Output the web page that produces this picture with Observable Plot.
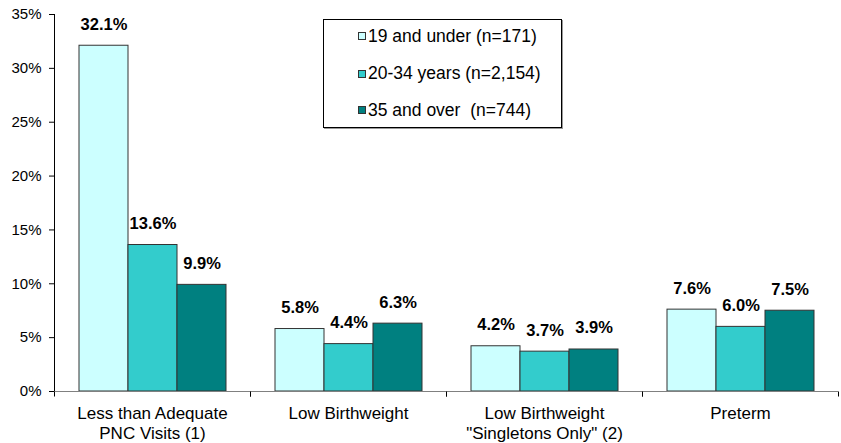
<!DOCTYPE html>
<html>
<head>
<meta charset="utf-8">
<script src="https://cdn.jsdelivr.net/npm/d3@7"></script>
<script src="https://cdn.jsdelivr.net/npm/@observablehq/plot@0.6"></script>
<style>
  html, body { margin: 0; padding: 0; background: #fff; }
  #wrap { position: relative; width: 841px; height: 443px; font-family: "Liberation Sans", Arial, sans-serif; }
  #legend { position: absolute; left: 323px; top: 19px; width: 239px; height: 109px; border: 1px solid #000;
            box-shadow: 1px 1px 0 #999; background: #fff; box-sizing: border-box; }
  .row { position: absolute; left: 34px; display: flex; align-items: center; font-size: 17.5px; white-space: pre; color: #000; }
  .sw { width: 8px; height: 8px; border: 1px solid #333; box-sizing: border-box; margin-right: 2px; }
</style>
</head>
<body>
<div id="wrap"></div>
<script>
const categories = ["Less than Adequate\nPNC Visits (1)", "Low Birthweight", "Low Birthweight\n\"Singletons Only\" (2)", "Preterm"];
const series = ["19 and under (n=171)", "20-34 years (n=2,154)", "35 and over  (n=744)"];
const under19 = [32.1, 5.8, 4.2, 7.6];
const age20to34 = [13.6, 4.4, 3.7, 6.0];
const over35 = [9.9, 6.3, 3.9, 7.5];
const colors = ["#CCFFFF", "#33CCCC", "#008080"];
const yTicks = [0, 5, 10, 15, 20, 25, 30, 35];

const seriesValues = [under19, age20to34, over35];
const data = [];
categories.forEach((c, i) => series.forEach((s, j) => data.push({category: c, series: s, value: seriesValues[j][i]})));

// per-facet baseline and category boundary ticks
function baseline(index, scales, values, dims) {
  const {x, y} = scales;
  const g = d3.create("svg:g");
  const [r0, r1] = x.range();
  const y0 = Math.round(y(0)) + 0.5;
  g.append("line").attr("x1", r0).attr("x2", r1).attr("y1", y0).attr("y2", y0).attr("stroke", "#808080");
  [r0, r1].forEach(v => {
    const xx = Math.round(v) + 0.5;
    g.append("line").attr("x1", xx).attr("x2", xx).attr("y1", y0).attr("y2", y0 + 5).attr("stroke", "#000");
  });
  return g.node();
}

const chart = Plot.plot({
  width: 841,
  height: 443,
  marginLeft: 54,
  marginRight: 3,
  marginTop: 14,
  marginBottom: 52,
  style: {fontFamily: "Liberation Sans, Arial, sans-serif", background: "#fff", color: "#000"},
  fx: {domain: categories, padding: 0, label: null, axis: null},
  x: {domain: series, paddingInner: 0, paddingOuter: 0.5, axis: null},
  y: {domain: [0, 35], label: null, axis: null},
  color: {domain: series, range: colors},
  marks: [
    Plot.axisY({ticks: yTicks, tickSize: 5, tickPadding: 8, fontSize: 15, tickFormat: d => d + "%", label: null, stroke: "#000"}),
    Plot.frame({anchor: "left", facetAnchor: "left", stroke: "#000"}),
    Plot.axisFx({anchor: "bottom", tickSize: 0, tickPadding: 13.5, fontSize: 17, lineHeight: 20 / 17, label: null}),
    Plot.barY(data, {fx: "category", x: "series", y: "value", fill: "series", stroke: "#333", strokeWidth: 1}),
    Plot.text(data, {fx: "category", x: "series", y: "value", text: d => d.value.toFixed(1) + "%", lineAnchor: "bottom", dy: -16, fontSize: 16.5, fontWeight: "bold", fill: "#000"}),
    baseline
  ]
});

const wrap = document.getElementById("wrap");
wrap.appendChild(chart);

const legend = document.createElement("div");
legend.id = "legend";
const rowTops = [16, 53.5, 90];
series.forEach((s, i) => {
  const row = document.createElement("div");
  row.className = "row";
  row.style.top = (rowTops[i] - 10) + "px";
  row.style.height = "20px";
  const sw = document.createElement("div");
  sw.className = "sw";
  sw.style.background = colors[i];
  const t = document.createElement("span");
  t.textContent = s;
  row.appendChild(sw);
  row.appendChild(t);
  legend.appendChild(row);
});
wrap.appendChild(legend);
</script>
</body>
</html>
